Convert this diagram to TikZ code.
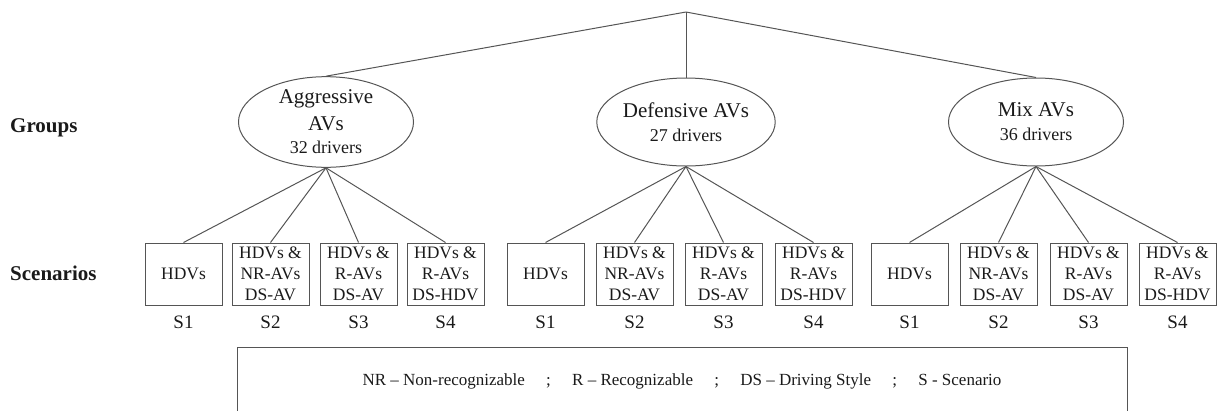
\documentclass[tikz,border=0pt]{standalone}
\usepackage{fontspec}
\setmainfont{Liberation Serif}
\usetikzlibrary{shapes.geometric}
\definecolor{ln}{HTML}{555555}
\definecolor{tx}{HTML}{1A1A1A}
\tikzset{
  grp/.style={ellipse, draw=ln, line width=1pt, minimum width=175pt, minimum height=88pt, inner sep=0pt, text=tx, align=center, font=\fontsize{21}{26}\selectfont},
  scen/.style={rectangle, draw=ln, line width=1pt, minimum width=77pt, minimum height=62pt, inner sep=0pt, text=tx, align=center, font=\fontsize{17.5}{21}\selectfont},
  slab/.style={text=tx, font=\fontsize{19}{22}\selectfont, inner sep=0pt},
  rowlab/.style={text=tx, font=\bfseries\fontsize{21}{24}\selectfont, inner sep=0pt, anchor=west},
  conn/.style={draw=ln, line width=1pt}
}
\newcommand{\drv}[1]{{\fontsize{18}{22}\selectfont #1}}
\begin{document}
\begin{tikzpicture}[x=1pt,y=-1pt]
\useasboundingbox (0,0) rectangle (1221,410);
\coordinate (top) at (686,12);
\node[rowlab] (lg) at (10,128) {Groups};
\node[rowlab] (ls) at (10,273) {Scenarios};
\node[grp] (g1) at (326,122) {Aggressive\\[1pt]AVs\\[-3pt]\drv{32 drivers}};
\node[grp] (g2) at (686,122) {Defensive AVs\\[-2pt]\drv{27 drivers}};
\node[grp] (g3) at (1036,122) {Mix AVs\\[-2pt]\drv{36 drivers}};
\draw[conn] (top) -- (g1.north);
\draw[conn] (top) -- (g2.north);
\draw[conn] (top) -- (g3.north);
\foreach \g/\xa/\xb/\xc/\xd in {1/183.5/270.5/358.5/445.5, 2/545.5/634.5/723.5/813.5, 3/909.5/998.5/1088.5/1177.5}{
  \node[scen] (b\g a) at (\xa,274) {HDVs};
  \node[scen] (b\g b) at (\xb,274) {HDVs \&\\NR-AVs\\DS-AV};
  \node[scen] (b\g c) at (\xc,274) {HDVs \&\\R-AVs\\DS-AV};
  \node[scen] (b\g d) at (\xd,274) {HDVs \&\\R-AVs\\DS-HDV};
  \node[slab] (s\g a) at (\xa,322) {S1};
  \node[slab] (s\g b) at (\xb,322) {S2};
  \node[slab] (s\g c) at (\xc,322) {S3};
  \node[slab] (s\g d) at (\xd,322) {S4};
  \foreach \k in {a,b,c,d}{
    \draw[conn] (g\g.south) -- (b\g\k.north);
  }
}
\begin{scope}
\clip (0,0) rectangle (1221,410);
\draw[draw=ln, line width=1pt] (237,347) rectangle (1127,430);
\end{scope}
\node[text=tx, inner sep=0pt, font=\fontsize{17}{20}\selectfont] (leg) at (682,381) {NR -- Non-recognizable \quad ; \quad R -- Recognizable \quad ; \quad DS -- Driving Style \quad ; \quad S - Scenario};
\end{tikzpicture}
\end{document}
